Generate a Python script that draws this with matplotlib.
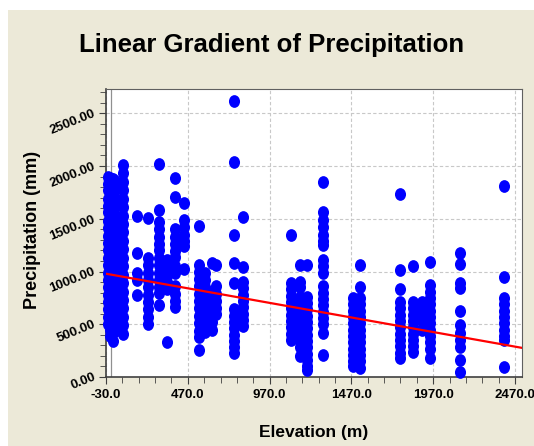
import numpy as np
import matplotlib
matplotlib.use("Agg")
import matplotlib.pyplot as plt
from matplotlib.path import Path
from matplotlib.patches import Rectangle
from matplotlib.lines import Line2D
from matplotlib.ticker import MultipleLocator, FixedLocator, FormatStrFormatter

plt.rcParams["font.family"] = ["Liberation Sans", "DejaVu Sans"]

# station elevations (m) and their precipitation readings (mm)
elevations = [-20, -5, 10, 25, 45, 75, 160, 225, 294, 340, 392, 447, 538,
              575, 615, 642, 755, 807, 1101, 1156, 1198, 1296, 1480, 1523,
              1767, 1847, 1902, 1950, 2134, 2403]

p_m20 = [1900, 1830, 1770, 1690, 1620, 1560, 1480, 1410, 1340, 1270, 1200,
         1130, 1060, 990, 920, 850, 780, 710, 640, 570, 500]
p_m5 = [1890, 1810, 1730, 1650, 1570, 1490, 1410, 1330, 1250, 1170, 1090,
        1010, 930, 850, 770, 690, 610, 530, 450, 390]
p_10 = [1880, 1800, 1720, 1640, 1560, 1480, 1400, 1320, 1240, 1160, 1080,
        1000, 920, 840, 760, 680, 600, 520, 440, 340]
p_25 = [1860, 1780, 1700, 1620, 1540, 1460, 1380, 1300, 1220, 1140, 1060,
        980, 900, 820, 740, 660, 580, 500, 440]
p_45 = [1500, 1420, 1340, 1260, 1180, 1100, 1020, 940, 860, 780, 700, 620,
        550, 470]
p_75 = [2010, 1930, 1850, 1770, 1690, 1610, 1530, 1450, 1370, 1290, 1210,
        1130, 1050, 970, 890, 810, 730, 650, 570, 490, 410]
p_160 = [1530, 1180, 990, 920, 780]
p_225 = [1510, 1130, 1060, 990, 920, 850, 780, 710, 640, 570, 500]
p_294 = [2020, 1580, 1470, 1400, 1330, 1260, 1200, 1130, 1060, 990, 920,
         850, 800, 680]
p_340 = [1110, 1040, 970, 900, 830, 330]
p_392 = [1890, 1710, 1400, 1330, 1260, 1190, 1140, 1050, 990, 860, 790,
         720, 665]
p_447 = [1650, 1490, 1420, 1350, 1290, 1240, 1020]
p_538 = [1435, 1065, 1000, 930, 860, 790, 720, 650, 580, 510, 440, 380, 260]
p_575 = [990, 920, 850, 780, 710, 640, 570, 500, 430]
p_615 = [1084, 800, 730, 660, 590, 520, 450]
p_642 = [1065, 860, 790, 720, 650, 600]
p_755 = [2620, 2040, 1350, 1084, 894, 640, 580, 520, 460, 400, 340, 280, 230]
p_807 = [1520, 1040, 900, 840, 780, 720, 660, 600, 540, 480]
p_1101 = [1350, 890, 830, 770, 710, 650, 590, 530, 470, 410, 350]
p_1156 = [1065, 900, 850, 760, 700, 640, 580, 520, 460, 400, 340, 280, 200]
p_1198 = [1065, 760, 700, 640, 580, 520, 460, 400, 340, 280, 220, 160, 100,
          70]
p_1296 = [1850, 1560, 1490, 1420, 1350, 1290, 1250, 1110, 1050, 990, 860,
          800, 740, 680, 620, 560, 500, 420, 210]
p_1480 = [750, 690, 630, 570, 510, 450, 390, 330, 270, 210, 150, 100]
p_1523 = [1065, 855, 750, 690, 630, 570, 510, 450, 390, 330, 270, 210, 150,
          90]
p_1767 = [1730, 1017, 836, 710, 650, 590, 530, 470, 410, 350, 290, 230, 180]
p_1847 = [1055, 710, 650, 590, 530, 470, 410, 350, 290, 240]
p_1902 = [710, 650, 590, 530, 450]
p_1950 = [1093, 874, 810, 750, 690, 630, 570, 510, 450, 390, 330, 270, 180]
p_2134 = [1180, 1070, 890, 840, 630, 490, 420, 350, 280, 160, 50]
p_2403 = [1815, 950, 750, 690, 630, 570, 510, 450, 390, 350, 95]

precip = [p_m20, p_m5, p_10, p_25, p_45, p_75, p_160, p_225, p_294, p_340,
          p_392, p_447, p_538, p_575, p_615, p_642, p_755, p_807, p_1101,
          p_1156, p_1198, p_1296, p_1480, p_1523, p_1767, p_1847, p_1902,
          p_1950, p_2134, p_2403]

# fitted gradient
fit_intercept = 970.7
fit_slope = -0.2764

x_ticks = [-30, 470, 970, 1470, 1970, 2470]
y_ticks = [0, 500, 1000, 1500, 2000, 2500]

xs = np.concatenate([[e] * len(p) for e, p in zip(elevations, precip)])
ys = np.concatenate(precip)

beige = "#ECE9D8"
fig = plt.figure(figsize=(5.34, 4.46), dpi=100, facecolor=beige)
# white strips along the top and left edges
fig.patches.append(Rectangle((0, 1 - 10 / 446), 1, 10 / 446,
                             transform=fig.transFigure, facecolor="white",
                             edgecolor="none", zorder=-5))
fig.patches.append(Rectangle((0, 0), 8 / 534, 1,
                             transform=fig.transFigure, facecolor="white",
                             edgecolor="none", zorder=-5))

ax = fig.add_axes([106 / 534, 69 / 446, 416 / 534, 288 / 446])
ax.set_facecolor("white")

circ = Path.unit_circle()
oval = Path(circ.vertices * np.array([1.0, 1.15]), circ.codes)
ax.scatter(xs, ys, marker=oval, s=84, color="#0000FF", linewidths=0,
           zorder=3, clip_on=False)

line_x = np.array([-30, 2513])
ax.plot(line_x, fit_intercept + fit_slope * line_x, color="#FF0000", lw=1.6,
        zorder=4)

ax.set_xlim(-30, 2513)
ax.set_ylim(0, 2730)
ax.xaxis.set_major_locator(FixedLocator(x_ticks))
ax.xaxis.set_minor_locator(MultipleLocator(100, offset=-30))
ax.yaxis.set_major_locator(FixedLocator(y_ticks))
ax.yaxis.set_minor_locator(MultipleLocator(100))
ax.xaxis.set_major_formatter(FormatStrFormatter("%.1f"))
ax.yaxis.set_major_formatter(FormatStrFormatter("%.2f"))

ax.grid(True, which="major", color="#C8C8C8", linestyle=(0, (3, 2)), lw=0.8)
ax.set_axisbelow(True)

for s in ["top", "right"]:
    ax.spines[s].set_color("#606060")
for s in ["left", "bottom"]:
    ax.spines[s].set_color("#404040")
    ax.spines[s].set_linewidth(1.2)
# inner frame line next to the y axis
ax.add_line(Line2D([5 / 416, 5 / 416], [0, 1], transform=ax.transAxes,
                   color="#909090", lw=0.9, zorder=2))

ax.tick_params(which="both", direction="out", top=False, right=False,
               color="#404040")
ax.tick_params(which="major", length=5)
ax.tick_params(which="minor", length=4)
ax.tick_params(axis="x", labelsize=9.5, pad=4)
ax.tick_params(axis="y", labelsize=9.5, pad=3)
for lbl in ax.get_xticklabels():
    lbl.set_fontweight("bold")
for lbl in ax.get_yticklabels():
    lbl.set_fontweight("bold")
    lbl.set_rotation(22)
    lbl.set_rotation_mode("anchor")
    lbl.set_ha("right")
    lbl.set_va("center")

fig.text(272 / 534, 1 - 45 / 446, "Linear Gradient of Precipitation",
         ha="center", va="center", fontsize=18.5, fontweight="bold")
fig.text(314 / 534, 1 - 433 / 446, "Elevation (m)", ha="center",
         va="center", fontsize=12.5, fontweight="bold")
fig.text(33 / 534, 1 - 230 / 446, "Precipitation (mm)", ha="center",
         va="center", rotation=90, fontsize=13, fontweight="bold")

fig.savefig("out.png", dpi=100, facecolor=fig.get_facecolor())
